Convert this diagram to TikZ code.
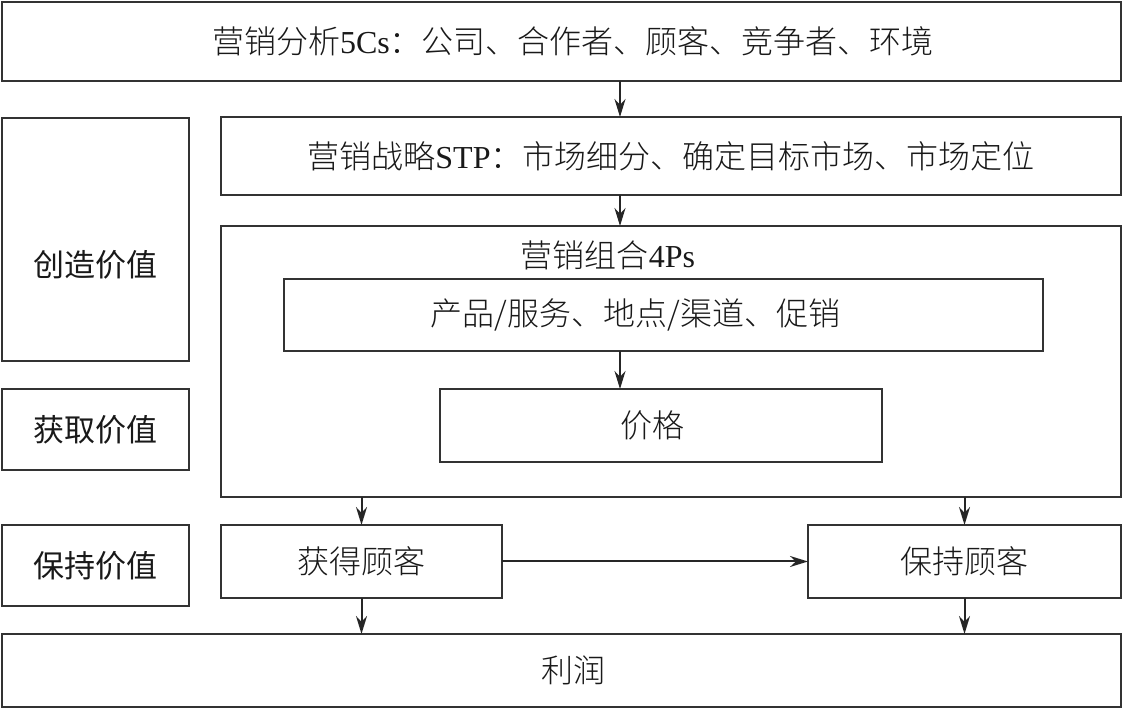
\documentclass[tikz,border=0pt]{standalone}
\usepackage{fontspec}
\setmainfont{Liberation Serif}
\newfontfamily\cjk{Noto Sans CJK SC Light}
\newfontfamily\cjkhei{Noto Sans CJK SC}
\newcommand\lat[1]{{\rmfamily #1}}
\usetikzlibrary{arrows.meta}
\begin{document}
\begin{tikzpicture}[x=0.5pt, y=-0.5pt,
    box/.style={draw=black!80, line width=0.9pt, inner sep=0pt, outer sep=0pt, text=black!90, font=\cjk\fontsize{16}{19}\selectfont},
    lbl/.style={text=black!90, font=\cjkhei\fontsize{15.5}{19}\selectfont},
    arr/.style={-{Stealth[length=9pt, width=5.5pt]}, draw=black!85, line width=1pt}
]
\useasboundingbox (0,0) rectangle (1124,710);
% top rows
\node[box, minimum width=559.5pt, minimum height=39.5pt] (cs) at (561.5,41.5) {\hspace*{11.5pt}营销分析\lat{5Cs}：公司、合作者、顾客、竞争者、环境};
\node[box, minimum width=450pt, minimum height=39pt] (stp) at (671,156) {营销战略\lat{STP}：市场细分、确定目标市场、市场定位};
% left column
\node[box, minimum width=93.5pt, minimum height=121.5pt] (create) at (95.5,239.5) {};
\node[lbl] (createlbl) at (95.5,265) {创造价值};
\node[box, lbl, minimum width=93.5pt, minimum height=40.5pt] (capture) at (95.5,429.5) {获取价值};
\node[box, lbl, minimum width=93.5pt, minimum height=40.5pt] (keep) at (95.5,565.5) {保持价值};
% marketing mix
\node[box, minimum width=450pt, minimum height=135.5pt] (mix) at (671,361.5) {};
\node[box, draw=none] (mixlbl) at (608,255) {营销组合\lat{4Ps}};
\node[box, minimum width=379.5pt, minimum height=36pt] (prod) at (663.5,315) {产品/服务、地点/渠道、促销\hspace*{28pt}};
\node[box, minimum width=221pt, minimum height=36.5pt] (price) at (661,425.5) {价格\hspace*{9pt}};
% customers and profit
\node[box, minimum width=140.5pt, minimum height=36.5pt] (acquire) at (361.5,561.5) {获得顾客};
\node[box, minimum width=156.5pt, minimum height=36.5pt] (retain) at (964.5,561.5) {保持顾客};
\node[box, minimum width=559.5pt, minimum height=36.5pt] (profit) at (561.5,670.5) {\hspace*{11.5pt}利润};
% connectors
\coordinate (axis) at (620,0);
\draw[arr] (cs.south -| axis) -- (stp.north -| axis);
\draw[arr] (stp.south -| axis) -- (mix.north -| axis);
\draw[arr] (prod.south -| axis) -- (price.north -| axis);
\draw[arr] (mix.south -| acquire) -- (acquire.north);
\draw[arr] (mix.south -| retain) -- (retain.north);
\draw[arr] (acquire.east) -- (retain.west);
\draw[arr] (acquire.south) -- (profit.north -| acquire);
\draw[arr] (retain.south) -- (profit.north -| retain);
\end{tikzpicture}
\end{document}
